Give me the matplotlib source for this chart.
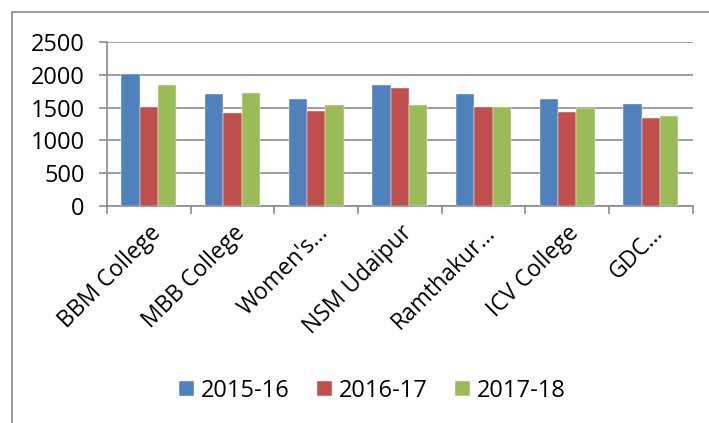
import numpy as np
import matplotlib.pyplot as plt
from matplotlib.patches import Rectangle

colleges = ["BBM College", "MBB College", "Women's\u2026", "NSM Udaipur",
            "Ramthakur\u2026", "ICV College", "GDC\u2026"]
years = ["2015-16", "2016-17", "2017-18"]
y2015 = [2005, 1710, 1625, 1850, 1700, 1625, 1550]
y2016 = [1505, 1410, 1445, 1795, 1515, 1425, 1335]
y2017 = [1840, 1725, 1545, 1535, 1515, 1495, 1375]
colors = ["#4F81BD", "#C0504D", "#9BBB59"]

plt.rcParams['font.family'] = ['Open Sans', 'DejaVu Sans']
fs = 17

fig = plt.figure(figsize=(7.09, 4.23), dpi=100)
ax = fig.add_axes([0.151, 0.513, 0.826, 0.388])

# chart border (runs off the right and bottom edges)
fig.patches.append(Rectangle((12/709, -0.1), 1.1, 1 - 12/423 + 0.1,
                             transform=fig.transFigure, fill=False,
                             edgecolor='#868686', linewidth=1.2))

x = np.arange(len(colleges))
w = 0.22
for i, (vals, c) in enumerate(zip([y2015, y2016, y2017], colors)):
    ax.bar(x + (i - 1) * w, vals, w, color=c, label=years[i],
           edgecolor='white', linewidth=0.3, zorder=3)

ax.set_xlim(-0.5, len(colleges) - 0.5)
ax.set_ylim(0, 2500)
ax.set_yticks(range(0, 2501, 500))
ax.yaxis.grid(True, color='#8c8c8c', linewidth=1.2, zorder=0)
ax.set_axisbelow(True)

for s in ['top', 'right']:
    ax.spines[s].set_visible(False)
for s in ['left', 'bottom']:
    ax.spines[s].set_color('#8c8c8c')
    ax.spines[s].set_linewidth(1.2)

ax.set_xticks(np.arange(-0.5, len(colleges), 1))
ax.set_xticklabels([])
ax.set_xticks(x, minor=True)
ax.set_xticklabels(colleges, minor=True, rotation=45, ha='right',
                   rotation_mode='anchor', fontsize=16.5)
ax.tick_params(axis='x', which='minor', length=0, pad=11)
ax.tick_params(axis='x', which='major', length=6, color='#8c8c8c', width=1.2)
ax.tick_params(axis='y', length=6, color='#8c8c8c', width=1.2, labelsize=fs, pad=10)

fig.legend(loc='center', bbox_to_anchor=(0.525, 0.076), ncol=3, frameon=False,
           fontsize=fs, handlelength=0.64, handleheight=0.64, handletextpad=0.3,
           columnspacing=1.15)

fig.savefig('out.png', dpi=100)
